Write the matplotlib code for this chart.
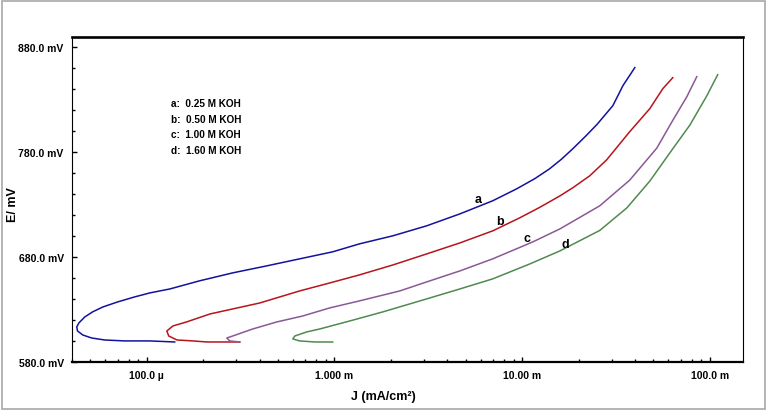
import matplotlib
matplotlib.use("Agg")
import matplotlib.pyplot as plt
from matplotlib.patches import Rectangle
from matplotlib.ticker import FixedLocator, NullFormatter, LogLocator

plt.rcParams["font.family"] = ["Liberation Sans Narrow", "Liberation Sans", "DejaVu Sans"]
plt.rcParams["font.weight"] = "bold"

# current density (A/cm2) and potential (mV)
J_A = [1.41e-4, 1.04e-4, 7.64e-5, 5.97e-5, 5.09e-5, 4.56e-5, 4.28e-5, 4.24e-5, 4.35e-5,
       4.68e-5, 5.15e-5, 5.84e-5, 7.0e-5, 8.63e-5, 1.04e-4, 1.33e-4, 1.91e-4, 2.87e-4,
       4.36e-4, 6.53e-4, 9.79e-4, 1.36e-3, 2.05e-3, 3.10e-3, 4.66e-3, 6.97e-3, 9.35e-3,
       1.17e-2, 1.40e-2, 1.62e-2, 1.86e-2, 2.18e-2, 2.50e-2, 3.04e-2, 3.44e-2, 3.98e-2]
E_A = [599.1, 600.1, 600.1, 601.0, 602.9, 605.8, 609.6, 613.4, 617.2,
       623.0, 627.8, 632.5, 637.3, 642.1, 645.9, 649.7, 657.4, 665.0,
       671.7, 678.4, 685.1, 692.7, 700.4, 709.9, 721.3, 733.8, 745.2,
       755.0, 764.3, 773.5, 783.4, 795.5, 806.5, 824.5, 843.6, 860.8]

J_B = [3.13e-4, 2.45e-4, 2.09e-4, 1.76e-4, 1.45e-4, 1.31e-4, 1.28e-4, 1.38e-4, 1.63e-4,
       2.17e-4, 2.87e-4, 4.00e-4, 6.53e-4, 9.44e-4, 1.36e-3, 2.05e-3, 3.10e-3, 4.66e-3,
       6.97e-3, 9.70e-3, 1.24e-2, 1.59e-2, 1.86e-2, 2.29e-2, 2.82e-2, 3.74e-2, 4.78e-2,
       5.61e-2, 6.34e-2]
E_B = [599.1, 599.1, 599.1, 600.1, 601.0, 604.8, 609.6, 614.4, 618.2,
       625.8, 630.6, 636.3, 647.8, 655.4, 663.1, 672.6, 683.1, 693.6,
       705.1, 717.5, 727.5, 738.5, 746.2, 757.6, 772.9, 799.7, 821.6,
       840.7, 851.2]

J_C = [3.13e-4, 2.77e-4, 2.67e-4, 2.87e-4, 3.67e-4, 4.93e-4, 6.78e-4, 9.44e-4, 1.36e-3,
       2.23e-3, 3.10e-3, 4.66e-3, 6.97e-3, 1.14e-2, 1.59e-2, 2.59e-2, 3.74e-2, 5.21e-2,
       6.34e-2, 7.53e-2, 8.51e-2]
E_C = [599.1, 600.1, 602.9, 604.8, 611.5, 618.2, 623.9, 631.6, 638.3,
       647.8, 656.4, 666.9, 678.4, 694.6, 707.0, 729.0, 753.5, 784.0,
       810.5, 833.0, 852.2]

J_D = [9.79e-4, 7.85e-4, 6.53e-4, 6.0e-4, 6.15e-4, 7.12e-4, 8.35e-4, 1.21e-3, 1.81e-3,
       3.10e-3, 4.66e-3, 6.97e-3, 1.10e-2, 1.59e-2, 2.59e-2, 3.61e-2, 4.78e-2, 6.34e-2,
       7.82e-2, 9.63e-2, 1.10e-1]
E_D = [599.1, 599.1, 600.1, 602.0, 604.8, 608.7, 611.5, 619.2, 627.8,
       640.2, 649.7, 659.3, 673.6, 686.0, 705.5, 727.0, 752.5, 783.4,
       806.0, 834.0, 854.1]

LETTERS = ["a", "b", "c", "d"]
LETTER_J = [5.8e-3, 7.6e-3, 1.06e-2, 1.69e-2]
LETTER_E = [735.7, 714.7, 698.4, 692.7]
LEGEND_LINES = ["a:  0.25 M KOH", "b:  0.50 M KOH", "c:  1.00 M KOH", "d:  1.60 M KOH"]

X_TICKS = [1e-4, 1e-3, 1e-2, 1e-1]
X_LABELS = ["100.0 \u00b5", "1.000 m", "10.00 m", "100.0 m"]
Y_TICKS = [580, 680, 780, 880]
Y_LABELS = ["580.0 mV", "680.0 mV", "780.0 mV", "880.0 mV"]

COLORS = ["#12129e", "#b8141c", "#8a5896", "#4f8a4f"]

fig = plt.figure(figsize=(7.68, 4.14), dpi=100)
ax = fig.add_axes([72 / 768, 51 / 414, 671 / 768, 325 / 414])

for j, e, c in zip([J_A, J_B, J_C, J_D], [E_A, E_B, E_C, E_D], COLORS):
    ax.plot(j, e, color=c, lw=1.1)

ax.set_xscale("log")
ax.set_xlim(4.0e-5, 0.15)
ax.set_ylim(580, 890)

ax.set_xticks(X_TICKS)
ax.set_xticklabels(X_LABELS, fontsize=7.5, fontweight="bold")
ax.xaxis.set_minor_locator(LogLocator(base=10, subs=range(2, 10)))
ax.xaxis.set_minor_formatter(NullFormatter())
ax.set_yticks(Y_TICKS)
ax.set_yticklabels(Y_LABELS, fontsize=7.5, fontweight="bold")
ax.yaxis.set_minor_locator(FixedLocator(range(580, 891, 20)))

ax.tick_params(which="both", direction="in", top=False, right=False, width=1)
ax.tick_params(which="major", length=3.5, pad=6)
ax.tick_params(which="minor", length=2.5)

ax.spines["top"].set_linewidth(1.9)
ax.spines["bottom"].set_linewidth(1.6)
ax.spines["left"].set_linewidth(0.8)
ax.spines["right"].set_linewidth(0.8)

for t, jx, ey in zip(LETTERS, LETTER_J, LETTER_E):
    ax.text(jx, ey, t, fontsize=9, fontweight="bold", ha="center", va="center")

for i, line in enumerate(LEGEND_LINES):
    ax.text(0.148, 0.797 - i * 0.048, line, transform=ax.transAxes,
            fontsize=7.2, fontweight="bold", ha="left", va="center")

fig.text(13 / 768, 1 - 205 / 414, "E/ mV", rotation=90, fontsize=9,
         fontweight="bold", ha="center", va="center")
fig.text(383 / 768, 1 - 397 / 414, "J (mA/cm\u00b2)", fontsize=9,
         fontweight="bold", ha="center", va="center")

fig.patches.append(Rectangle((2 / 768, 4 / 414), 763 / 768, 408 / 414,
                             transform=fig.transFigure, fill=False,
                             edgecolor="#a8a8a8", lw=1.2))

fig.savefig("out.png", dpi=100)
